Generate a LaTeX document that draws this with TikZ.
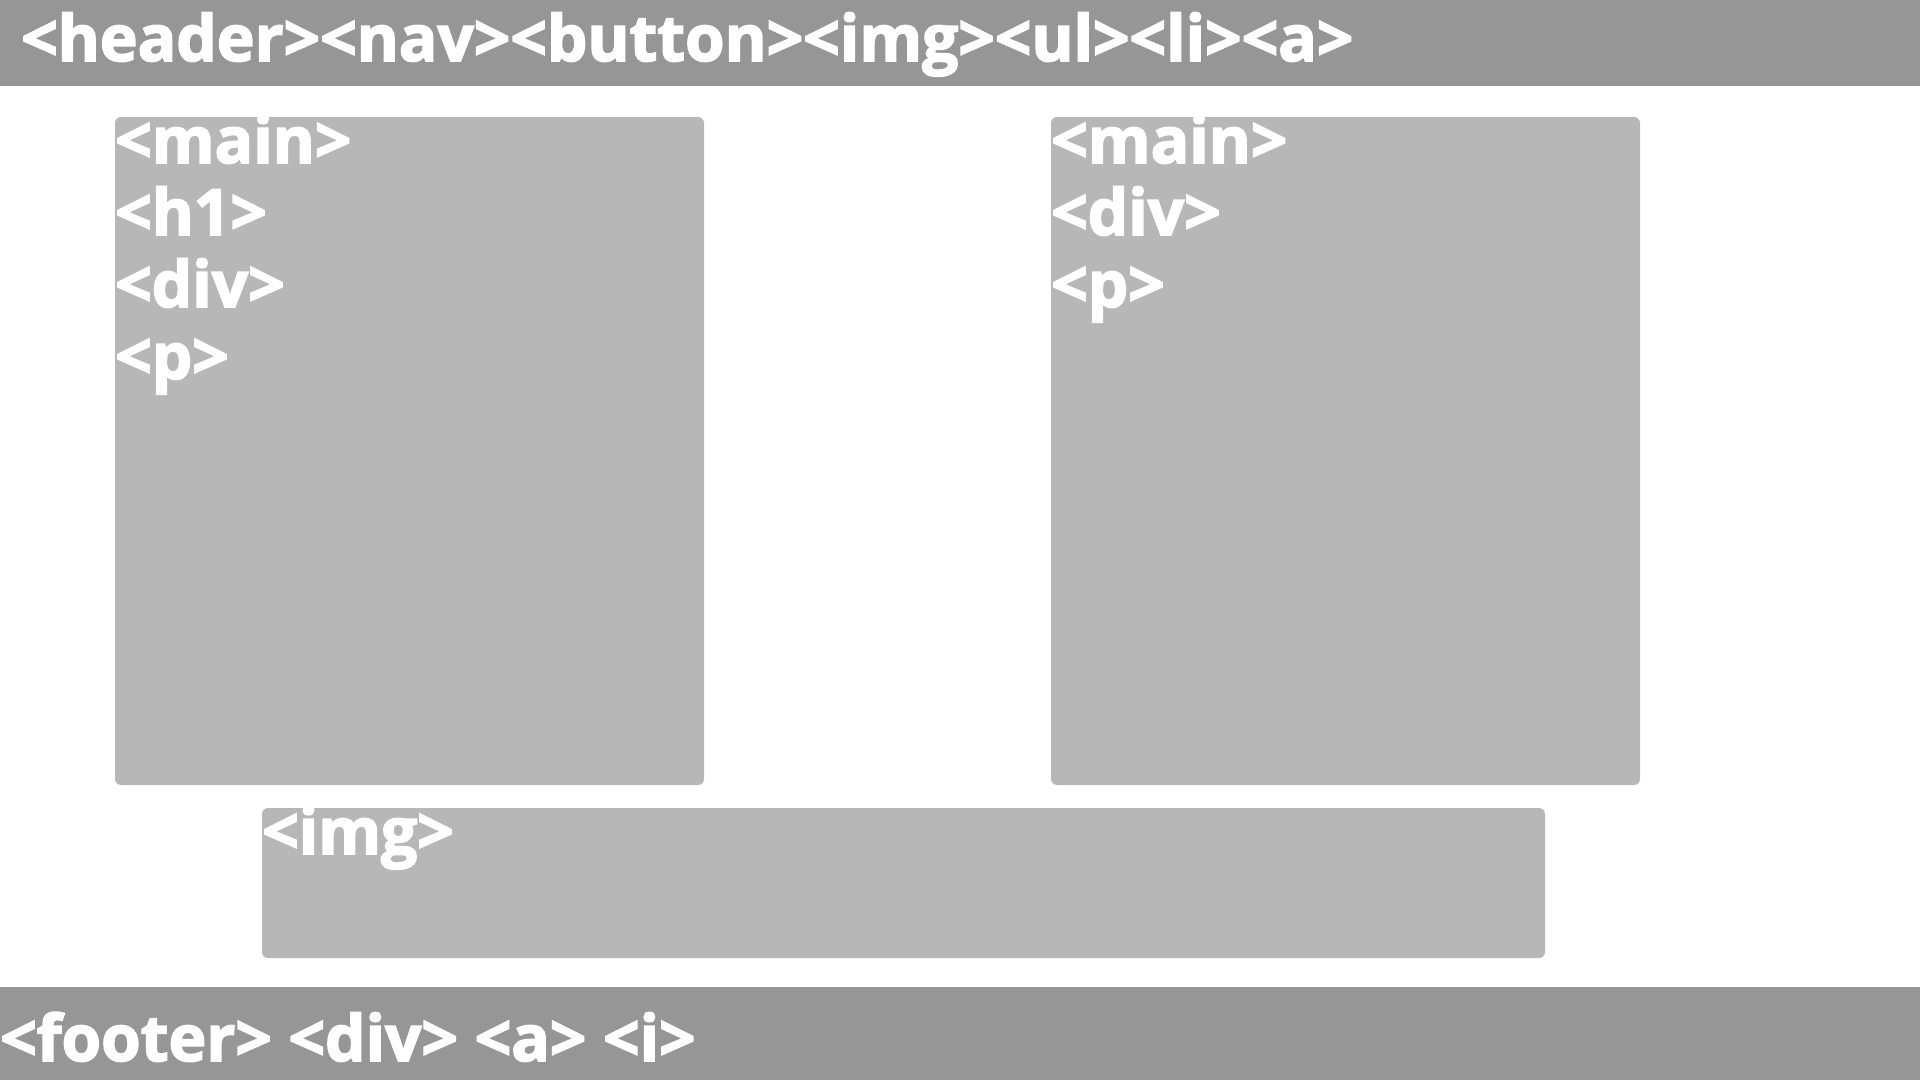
\documentclass[tikz,border=0pt]{standalone}
\usepackage{fontspec}
\setmainfont{Open Sans}[BoldFeatures={FakeBold=2.5}]
\definecolor{barGray}{HTML}{969696}
\definecolor{boxGray}{HTML}{B7B7B7}

\tikzset{
    bar/.style={fill=barGray},
    panel/.style={fill=boxGray, rounded corners=6pt},
    tag/.style={text=white, font=\bfseries\fontsize{64}{64}\selectfont,
                inner sep=0pt, anchor=base west},
}

\begin{document}
\begin{tikzpicture}[x=1pt, y=-1pt]
    \useasboundingbox (0,0) rectangle (1920,1080);

    % Header bar
    \fill[bar] (0,0) rectangle (1920,86);
    \node[tag] (headerTags) at (21,61) {<header><nav><button><img><ul><li><a>};

    % Left main panel
    \fill[panel] (115,117) rectangle (704,785);
    \foreach \tagName [count=\i from 0] in {<main>,<h1>,<div>,<p>}
        \node[tag] (leftTag\i) at (115,163+72*\i) {\tagName};

    % Right main panel
    \fill[panel] (1051,117) rectangle (1640,785);
    \foreach \tagName [count=\i from 0] in {<main>,<div>,<p>}
        \node[tag] (rightTag\i) at (1051,163+72*\i) {\tagName};

    % Image strip
    \fill[panel] (262,808) rectangle (1545,958);
    \node[tag] (imgTag) at (262,854) {<img>};

    % Footer bar
    \fill[bar] (0,987) rectangle (1920,1080);
    \node[tag] (footerTags) at (0,1061) {<footer> <div> <a> <i>};
\end{tikzpicture}
\end{document}
